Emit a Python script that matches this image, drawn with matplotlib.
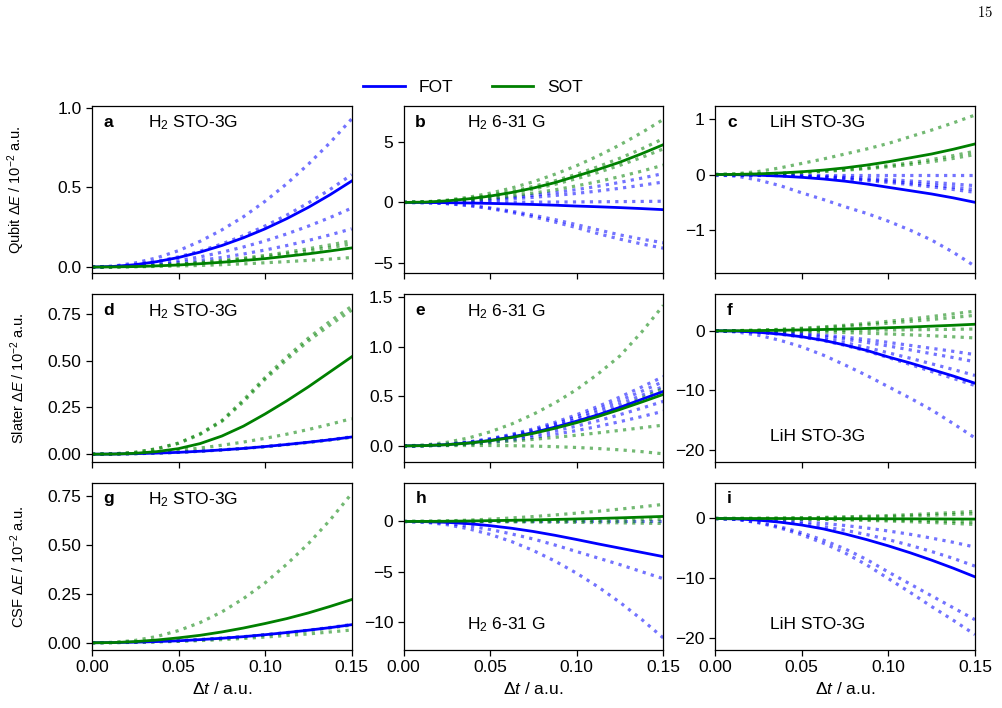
import matplotlib
matplotlib.use("Agg")
import matplotlib.pyplot as plt

plt.rcParams['font.family'] = ['Liberation Sans', 'DejaVu Sans']
plt.rcParams['mathtext.fontset'] = 'custom'
plt.rcParams['mathtext.rm'] = 'Liberation Sans'
plt.rcParams['mathtext.it'] = 'Liberation Sans:italic'
plt.rcParams['mathtext.bf'] = 'Liberation Sans:bold'

# time steps (a.u.)
dt = [0.0, 0.0125, 0.025, 0.0375, 0.05, 0.0625, 0.075,
      0.0875, 0.10, 0.1125, 0.125, 0.1375, 0.15]

# --- Qubit, H2 STO-3G
a_fot = [0, 0.004, 0.015, 0.034, 0.06, 0.094, 0.135, 0.184, 0.24, 0.304, 0.375, 0.454, 0.54]
a_sot = [0, 0.001, 0.003, 0.0075, 0.013, 0.021, 0.03, 0.041, 0.053, 0.068, 0.083, 0.101, 0.12]
a_fot_dots = [[0, 0.006, 0.026, 0.058, 0.103, 0.162, 0.233, 0.316, 0.413, 0.523, 0.646, 0.781, 0.93],
              [0, 0.004, 0.016, 0.036, 0.064, 0.1, 0.145, 0.197, 0.258, 0.326, 0.403, 0.487, 0.58],
              [0, 0.003, 0.01, 0.023, 0.041, 0.064, 0.093, 0.126, 0.164, 0.208, 0.257, 0.311, 0.37],
              [0, 0.002, 0.007, 0.015, 0.027, 0.042, 0.06, 0.082, 0.107, 0.135, 0.167, 0.202, 0.24]]
a_sot_dots = [[0, 0.001, 0.005, 0.01, 0.018, 0.029, 0.041, 0.056, 0.073, 0.093, 0.115, 0.139, 0.165],
              [0, 0.001, 0.004, 0.009, 0.016, 0.025, 0.036, 0.049, 0.064, 0.082, 0.101, 0.122, 0.145],
              [0, 0.0004, 0.0017, 0.004, 0.007, 0.01, 0.015, 0.02, 0.027, 0.034, 0.042, 0.05, 0.06]]

# --- Qubit, H2 6-31G
b_fot = [0, -0.005, -0.02, -0.045, -0.08, -0.12, -0.17, -0.23, -0.3, -0.36, -0.43, -0.51, -0.6]
b_sot = [0, 0.03, 0.13, 0.3, 0.53, 0.83, 1.2, 1.65, 2.2, 2.75, 3.35, 4.05, 4.8]
b_fot_dots = [[0, 0.017, 0.067, 0.15, 0.27, 0.42, 0.6, 0.82, 1.07, 1.35, 1.67, 2.02, 2.4],
              [0, 0.012, 0.047, 0.106, 0.19, 0.3, 0.425, 0.58, 0.755, 0.955, 1.18, 1.43, 1.7],
              [0, 0.0, 0.003, 0.006, 0.011, 0.017, 0.025, 0.034, 0.044, 0.056, 0.069, 0.084, 0.1],
              [0, -0.02, -0.09, -0.23, -0.45, -0.73, -1.06, -1.43, -1.85, -2.28, -2.7, -3.05, -3.35],
              [0, -0.025, -0.1, -0.26, -0.51, -0.83, -1.2, -1.63, -2.1, -2.6, -3.05, -3.45, -3.8]]
b_sot_dots = [[0, 0.05, 0.19, 0.43, 0.77, 1.2, 1.72, 2.35, 3.06, 3.88, 4.79, 5.8, 6.9],
              [0, 0.037, 0.147, 0.33, 0.59, 0.92, 1.33, 1.8, 2.35, 2.98, 3.68, 4.45, 5.3],
              [0, 0.031, 0.124, 0.28, 0.49, 0.77, 1.11, 1.51, 1.98, 2.5, 3.09, 3.74, 4.45],
              [0, 0.022, 0.086, 0.19, 0.34, 0.54, 0.78, 1.05, 1.38, 1.74, 2.15, 2.6, 3.1]]

# --- Qubit, LiH STO-3G
c_fot = [0, -0.003, -0.012, -0.028, -0.05, -0.08, -0.12, -0.17, -0.23, -0.29, -0.35, -0.42, -0.5]
c_sot = [0, 0.003, 0.012, 0.028, 0.05, 0.08, 0.12, 0.17, 0.23, 0.3, 0.37, 0.455, 0.55]
c_fot_dots = [[0, 0, 0, 0, 0, 0, 0, 0, 0, 0, 0, 0, 0],
              [0, -0.001, -0.005, -0.012, -0.022, -0.035, -0.05, -0.068, -0.09, -0.115, -0.14, -0.17, -0.2],
              [0, -0.002, -0.008, -0.017, -0.03, -0.047, -0.068, -0.092, -0.12, -0.152, -0.188, -0.227, -0.27],
              [0, -0.002, -0.009, -0.02, -0.036, -0.056, -0.08, -0.109, -0.142, -0.18, -0.222, -0.269, -0.32],
              [0, -0.03, -0.1, -0.2, -0.33, -0.45, -0.58, -0.7, -0.84, -1.0, -1.18, -1.4, -1.65]]
c_sot_dots = [[0, 0.015, 0.055, 0.12, 0.2, 0.28, 0.37, 0.46, 0.56, 0.68, 0.8, 0.93, 1.07],
              [0, 0.003, 0.01, 0.022, 0.04, 0.063, 0.09, 0.12, 0.16, 0.21, 0.27, 0.34, 0.42],
              [0, 0.002, 0.009, 0.019, 0.035, 0.054, 0.078, 0.105, 0.14, 0.18, 0.23, 0.29, 0.36]]

# --- Slater, H2 STO-3G
d_fot = [0, 0.001, 0.003, 0.006, 0.01, 0.016, 0.023, 0.031, 0.041, 0.052, 0.064, 0.077, 0.092]
d_sot = [0, 0.001, 0.005, 0.014, 0.03, 0.057, 0.097, 0.15, 0.215, 0.285, 0.36, 0.44, 0.52]
d_fot_dots = [[0, 0.001, 0.003, 0.006, 0.01, 0.016, 0.023, 0.031, 0.041, 0.052, 0.064, 0.078, 0.093]]
d_sot_dots = [[0, 0.002, 0.01, 0.03, 0.06, 0.11, 0.18, 0.29, 0.41, 0.52, 0.62, 0.71, 0.79],
              [0, 0.002, 0.01, 0.029, 0.058, 0.106, 0.175, 0.28, 0.4, 0.505, 0.605, 0.69, 0.77],
              [0, 0.001, 0.005, 0.012, 0.021, 0.033, 0.048, 0.065, 0.085, 0.107, 0.132, 0.16, 0.19],
              [0, 0.001, 0.003, 0.006, 0.01, 0.016, 0.023, 0.031, 0.04, 0.051, 0.063, 0.076, 0.09]]

# --- Slater, H2 6-31G
e_fot = [0, 0.003, 0.013, 0.03, 0.055, 0.09, 0.135, 0.19, 0.25, 0.315, 0.39, 0.47, 0.55]
e_sot = [0, 0.003, 0.012, 0.028, 0.052, 0.085, 0.127, 0.178, 0.235, 0.298, 0.368, 0.443, 0.52]
e_fot_dots = [[0, 0.004, 0.017, 0.04, 0.073, 0.117, 0.172, 0.238, 0.315, 0.4, 0.494, 0.595, 0.70],
              [0, 0.004, 0.016, 0.037, 0.068, 0.109, 0.16, 0.221, 0.292, 0.372, 0.459, 0.552, 0.65],
              [0, 0.004, 0.015, 0.034, 0.063, 0.1, 0.147, 0.204, 0.27, 0.343, 0.424, 0.51, 0.60],
              [0, 0.003, 0.011, 0.026, 0.048, 0.076, 0.11, 0.152, 0.2, 0.255, 0.316, 0.381, 0.45],
              [0, 0.002, 0.009, 0.02, 0.037, 0.059, 0.086, 0.118, 0.155, 0.198, 0.245, 0.296, 0.35]]
e_sot_dots = [[0, 0.009, 0.036, 0.08, 0.142, 0.222, 0.32, 0.435, 0.57, 0.73, 0.91, 1.15, 1.42],
              [0, 0.003, 0.013, 0.03, 0.055, 0.09, 0.133, 0.185, 0.245, 0.313, 0.39, 0.48, 0.58],
              [0, 0.002, 0.008, 0.018, 0.032, 0.048, 0.066, 0.086, 0.108, 0.132, 0.157, 0.183, 0.21],
              [0, 0.001, 0.003, 0.004, 0.004, 0.002, -0.002, -0.008, -0.016, -0.027, -0.04, -0.058, -0.08]]

# --- Slater, LiH STO-3G
f_fot = [0, -0.06, -0.25, -0.56, -1.0, -1.6, -2.4, -3.3, -4.4, -5.4, -6.5, -7.6, -8.8]
f_sot = [0, 0.01, 0.04, 0.09, 0.15, 0.22, 0.3, 0.4, 0.52, 0.64, 0.78, 0.93, 1.1]
f_fot_dots = [[0, -0.2, -0.75, -1.6, -2.7, -4.1, -5.75, -7.5, -9.4, -11.3, -13.3, -15.6, -18.0],
              [0, -0.06, -0.26, -0.59, -1.05, -1.65, -2.45, -3.4, -4.5, -5.65, -6.85, -8.0, -9.2],
              [0, -0.05, -0.21, -0.48, -0.85, -1.35, -2.0, -2.8, -3.7, -4.6, -5.55, -6.5, -7.5],
              [0, -0.035, -0.15, -0.33, -0.6, -0.95, -1.4, -1.95, -2.55, -3.2, -3.85, -4.5, -5.2],
              [0, -0.027, -0.11, -0.25, -0.45, -0.72, -1.05, -1.48, -1.95, -2.45, -2.95, -3.45, -4.0]]
f_sot_dots = [[0, 0.03, 0.11, 0.25, 0.43, 0.66, 0.93, 1.25, 1.6, 1.98, 2.4, 2.85, 3.3],
              [0, 0.024, 0.09, 0.2, 0.35, 0.53, 0.75, 1.0, 1.28, 1.58, 1.9, 2.24, 2.6],
              [0, 0.002, 0.008, 0.019, 0.033, 0.052, 0.075, 0.1, 0.13, 0.165, 0.205, 0.25, 0.3],
              [0, -0.008, -0.033, -0.075, -0.13, -0.21, -0.3, -0.41, -0.53, -0.68, -0.83, -1.01, -1.2]]

# --- CSF, H2 STO-3G
g_fot = [0, 0.001, 0.003, 0.006, 0.01, 0.016, 0.023, 0.031, 0.041, 0.052, 0.064, 0.077, 0.092]
g_sot = [0, 0.001, 0.006, 0.014, 0.025, 0.038, 0.055, 0.075, 0.098, 0.123, 0.152, 0.185, 0.22]
g_fot_dots = [[0, 0.001, 0.003, 0.006, 0.01, 0.016, 0.023, 0.031, 0.041, 0.052, 0.064, 0.078, 0.093]]
g_sot_dots = [[0, 0.002, 0.012, 0.032, 0.062, 0.103, 0.157, 0.225, 0.305, 0.4, 0.505, 0.625, 0.76],
              [0, 0.0005, 0.002, 0.004, 0.007, 0.011, 0.016, 0.022, 0.029, 0.037, 0.045, 0.055, 0.065],
              [0, 0.001, 0.003, 0.006, 0.01, 0.016, 0.023, 0.03, 0.04, 0.05, 0.062, 0.075, 0.09]]

# --- CSF, H2 6-31G
h_fot = [0, -0.02, -0.09, -0.22, -0.42, -0.68, -1.0, -1.38, -1.8, -2.24, -2.66, -3.08, -3.5]
h_sot = [0, 0.005, 0.02, 0.045, 0.08, 0.115, 0.155, 0.2, 0.25, 0.3, 0.36, 0.43, 0.5]
h_fot_dots = [[0, 0, 0, 0, 0, 0, 0, 0, 0, 0, 0, 0, 0],
              [0, -0.05, -0.2, -0.45, -0.8, -1.25, -1.75, -2.35, -3.0, -3.65, -4.3, -5.0, -5.7],
              [0, -0.08, -0.32, -0.73, -1.29, -2.01, -2.9, -3.95, -5.16, -6.53, -8.06, -9.75, -11.6]]
h_sot_dots = [[0, 0.015, 0.06, 0.13, 0.23, 0.35, 0.49, 0.65, 0.83, 1.02, 1.23, 1.46, 1.7],
              [0, 0.0, 0.005, 0.01, 0.02, 0.035, 0.05, 0.07, 0.09, 0.115, 0.14, 0.17, 0.2],
              [0, -0.0, -0.005, -0.01, -0.02, -0.035, -0.05, -0.07, -0.09, -0.115, -0.14, -0.17, -0.2]]

# --- CSF, LiH STO-3G
i_fot = [0, -0.07, -0.28, -0.62, -1.1, -1.75, -2.6, -3.55, -4.6, -5.75, -7.0, -8.35, -9.8]
i_sot = [0, 0, 0, -0.005, -0.01, -0.02, -0.03, -0.04, -0.05, -0.06, -0.07, -0.085, -0.1]
i_fot_dots = [[0, -0.03, -0.13, -0.29, -0.52, -0.82, -1.18, -1.6, -2.1, -2.65, -3.3, -4.0, -4.8],
              [0, -0.055, -0.22, -0.49, -0.88, -1.38, -1.98, -2.7, -3.55, -4.5, -5.55, -6.7, -8.0],
              [0, -0.15, -0.65, -1.4, -2.4, -3.65, -5.1, -6.9, -9.0, -11.0, -13.0, -15.0, -17.0],
              [0, -0.17, -0.72, -1.6, -2.75, -4.15, -5.8, -7.8, -10.1, -12.4, -14.8, -17.1, -19.5]]
i_sot_dots = [[0, 0.008, 0.03, 0.07, 0.12, 0.19, 0.28, 0.38, 0.5, 0.65, 0.82, 1.0, 1.2],
              [0, 0.005, 0.02, 0.045, 0.08, 0.125, 0.18, 0.25, 0.33, 0.43, 0.55, 0.67, 0.8],
              [0, -0.004, -0.015, -0.035, -0.06, -0.095, -0.14, -0.19, -0.25, -0.32, -0.4, -0.5, -0.6],
              [0, -0.007, -0.027, -0.06, -0.1, -0.16, -0.23, -0.32, -0.42, -0.54, -0.68, -0.83, -1.0]]

panels = [
    ("a", "H$_2$ STO-3G", 0.215, "top", a_fot, a_sot, a_fot_dots, a_sot_dots, (-0.04, 1.01), [0.0, 0.5, 1.0], "{:.1f}"),
    ("b", "H$_2$ 6-31 G", 0.243, "top", b_fot, b_sot, b_fot_dots, b_sot_dots, (-5.9, 8.0), [-5, 0, 5], "{:.0f}"),
    ("c", "LiH STO-3G", 0.212, "top", c_fot, c_sot, c_fot_dots, c_sot_dots, (-1.78, 1.23), [-1, 0, 1], "{:.0f}"),
    ("d", "H$_2$ STO-3G", 0.215, "top", d_fot, d_sot, d_fot_dots, d_sot_dots, (-0.04, 0.853), [0, 0.25, 0.5, 0.75], "{:.2f}"),
    ("e", "H$_2$ 6-31 G", 0.243, "top", e_fot, e_sot, e_fot_dots, e_sot_dots, (-0.16, 1.53), [0, 0.5, 1.0, 1.5], "{:.1f}"),
    ("f", "LiH STO-3G", 0.21, "bottom", f_fot, f_sot, f_fot_dots, f_sot_dots, (-22, 6.1), [-20, -10, 0], "{:.0f}"),
    ("g", "H$_2$ STO-3G", 0.215, "top", g_fot, g_sot, g_fot_dots, g_sot_dots, (-0.037, 0.815), [0, 0.25, 0.5, 0.75], "{:.2f}"),
    ("h", "H$_2$ 6-31 G", 0.243, "bottom", h_fot, h_sot, h_fot_dots, h_sot_dots, (-12.8, 3.85), [-10, -5, 0], "{:.0f}"),
    ("i", "LiH STO-3G", 0.21, "bottom", i_fot, i_sot, i_fot_dots, i_sot_dots, (-22.1, 6.0), [-20, -10, 0], "{:.0f}"),
]
row_labels = ["Qubit", "Slater", "CSF"]
xticks = [0.0, 0.05, 0.10, 0.15]
xticklabels = ["0.00", "0.05", "0.10", "0.15"]

fig, axes = plt.subplots(3, 3, figsize=(10.03, 7.08), dpi=100, sharex=True)
fig.subplots_adjust(left=0.0917, right=0.972, top=0.850, bottom=0.0819,
                    wspace=0.2, hspace=0.126)

blue = "#0000ff"
green = "#008000"

for k, (letter, mol, mx, where, fot, sot, fdots, sdots, ylim, yticks, fmt) in enumerate(panels):
    ax = axes[k // 3][k % 3]
    for y in fdots:
        ax.plot(dt, y, color=blue, ls=":", lw=2.3, alpha=0.55)
    for y in sdots:
        ax.plot(dt, y, color=green, ls=":", lw=2.3, alpha=0.55)
    ax.plot(dt, fot, color=blue, lw=2.0, label="FOT")
    ax.plot(dt, sot, color=green, lw=2.0, label="SOT")
    ax.set_xlim(0, 0.15)
    ax.set_ylim(*ylim)
    ax.set_yticks(yticks)
    ax.set_yticklabels([fmt.format(abs(v)) if v >= 0 else "\u2212" + fmt.format(abs(v))
                        for v in yticks])
    ax.set_xticks(xticks)
    ax.set_xticklabels(xticklabels)
    ax.tick_params(labelsize=12.5, length=4, width=0.9)
    for s in ax.spines.values():
        s.set_linewidth(0.9)
    ax.text(0.045, 0.905, letter, transform=ax.transAxes, fontsize=12.5,
            fontweight="bold", va="center", ha="left")
    if where == "top":
        ax.text(mx, 0.9, mol, transform=ax.transAxes, fontsize=12.5,
                va="center", ha="left")
    else:
        ax.text(mx, 0.15, mol, transform=ax.transAxes, fontsize=12.5,
                va="center", ha="left")
    if k % 3 == 0:
        ax.set_ylabel(row_labels[k // 3] + r" $\Delta E$ / 10$^{-2}$ a.u.", fontsize=10.5)
    if k // 3 == 2:
        ax.set_xlabel(r"$\Delta t$ / a.u.", fontsize=12.5)

for ax in axes[:, 0]:
    ax.yaxis.set_label_coords(-0.25, 0.5)

handles, labels = axes[0][0].get_legend_handles_labels()
fig.legend(handles[-2:], labels[-2:], loc="center", ncol=2, frameon=False,
           bbox_to_anchor=(0.4716, 0.877), fontsize=12.5, handlelength=2.4,
           columnspacing=2.2)

fig.text(0.99, 0.983, r"$15$", ha="right", va="center", fontsize=10.5,
         math_fontfamily="cm")

fig.savefig("out.png", dpi=100)
